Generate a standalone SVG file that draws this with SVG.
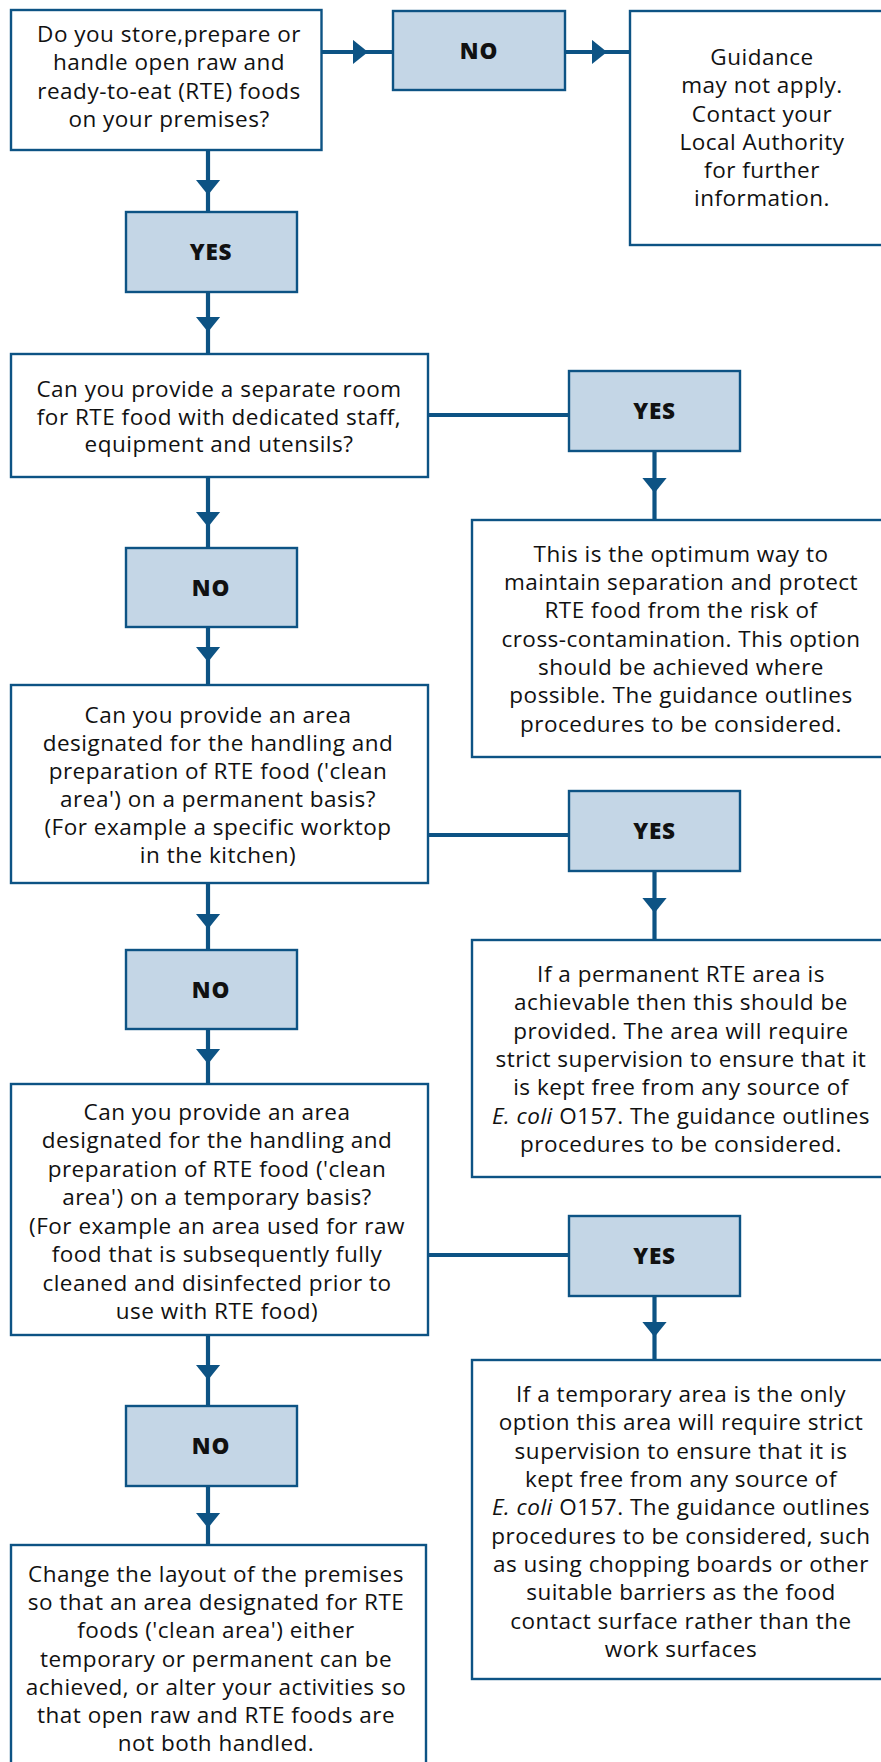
<svg xmlns="http://www.w3.org/2000/svg" width="881" height="1762" viewBox="0 0 881 1762">
<style>
.box{fill:#ffffff;stroke:#0d5384;stroke-width:2.4}
.lab{fill:#c4d6e6;stroke:#0d5384;stroke-width:2.4}
.t{font-family:"Open Sans","Noto Sans","DejaVu Sans",sans-serif;font-size:22.5px;letter-spacing:0.5px;fill:#111111;text-anchor:middle}
.b{font-family:"Open Sans","Noto Sans","DejaVu Sans",sans-serif;font-size:22.5px;font-weight:800;letter-spacing:0.8px;fill:#111111;text-anchor:middle}
.c{fill:none;stroke:#0d5384;stroke-width:4.2}
.a{marker-mid:url(#arr)}
.i{font-style:italic}
</style>
<defs>
<marker id="arr" markerUnits="userSpaceOnUse" viewBox="0 0 15.5 25" markerWidth="15.5" markerHeight="25" refX="15.5" refY="12.5" orient="auto">
<path d="M0,0 L15.5,12.5 L0,25 Z" fill="#0d5384"/>
</marker>
</defs>
<rect width="881" height="1762" fill="#ffffff"/>
<g id="connectors">
<path class="c a" d="M321,52 L368,52 L393,52"/>
<path class="c a" d="M565,52 L607,52 L630,52"/>
<path class="c a" d="M208,150 L208,195 L208,212"/>
<path class="c a" d="M208,292 L208,332 L208,354"/>
<path class="c a" d="M208,477 L208,527 L208,548"/>
<path class="c a" d="M208,627 L208,662 L208,685"/>
<path class="c a" d="M208,883 L208,929 L208,950"/>
<path class="c a" d="M208,1029 L208,1064 L208,1084"/>
<path class="c a" d="M208,1335 L208,1380 L208,1406"/>
<path class="c a" d="M208,1486 L208,1528 L208,1545"/>
<path class="c" d="M428,415 L569,415"/>
<path class="c a" d="M654.5,451 L654.5,493 L654.5,520"/>
<path class="c" d="M428,835 L569,835"/>
<path class="c a" d="M654.5,871 L654.5,913 L654.5,940"/>
<path class="c" d="M428,1255 L569,1255"/>
<path class="c a" d="M654.5,1296 L654.5,1337 L654.5,1360"/>
</g>
<g id="q1">
<rect class="box" x="11" y="10" width="310.5" height="140"/>
<text class="t" x="169" y="42">Do you store,prepare or</text>
<text class="t" x="169" y="70">handle open raw and</text>
<text class="t" x="169" y="98.5">ready-to-eat (RTE) foods</text>
<text class="t" x="169" y="127">on your premises?</text>
</g>
<g id="no1">
<rect class="lab" x="393" y="11" width="172" height="79"/>
<text class="b" x="479" y="58.5">NO</text>
</g>
<g id="guidance">
<rect class="box" x="630" y="11" width="265" height="234"/>
<text class="t" x="762" y="65">Guidance</text>
<text class="t" x="762" y="93">may not apply.</text>
<text class="t" x="762" y="122">Contact your</text>
<text class="t" x="762" y="150">Local Authority</text>
<text class="t" x="762" y="178">for further</text>
<text class="t" x="762" y="206">information.</text>
</g>
<g id="yes1">
<rect class="lab" x="126" y="212" width="171" height="80"/>
<text class="b" x="211" y="260">YES</text>
</g>
<g id="q2">
<rect class="box" x="11" y="354" width="417" height="123"/>
<text class="t" x="219" y="397">Can you provide a separate room</text>
<text class="t" x="219" y="424.5">for RTE food with dedicated staff,</text>
<text class="t" x="219" y="452">equipment and utensils?</text>
</g>
<g id="yes2">
<rect class="lab" x="569" y="371" width="171" height="80"/>
<text class="b" x="654.5" y="419">YES</text>
</g>
<g id="optimum">
<rect class="box" x="472" y="520" width="423" height="237"/>
<text class="t" x="681" y="562">This is the optimum way to</text>
<text class="t" x="681" y="590">maintain separation and protect</text>
<text class="t" x="681" y="618">RTE food from the risk of</text>
<text class="t" x="681" y="647">cross-contamination. This option</text>
<text class="t" x="681" y="675">should be achieved where</text>
<text class="t" x="681" y="703">possible. The guidance outlines</text>
<text class="t" x="681" y="732">procedures to be considered.</text>
</g>
<g id="no2">
<rect class="lab" x="126" y="548" width="171" height="79"/>
<text class="b" x="211" y="596">NO</text>
</g>
<g id="q3">
<rect class="box" x="11" y="685" width="417" height="198"/>
<text class="t" x="218" y="723">Can you provide an area</text>
<text class="t" x="218" y="750.5">designated for the handling and</text>
<text class="t" x="218" y="778.5">preparation of RTE food ('clean</text>
<text class="t" x="218" y="807">area') on a permanent basis?</text>
<text class="t" x="218" y="835">(For example a specific worktop</text>
<text class="t" x="218" y="863">in the kitchen)</text>
</g>
<g id="yes3">
<rect class="lab" x="569" y="791" width="171" height="80"/>
<text class="b" x="654.5" y="839">YES</text>
</g>
<g id="permanent">
<rect class="box" x="472" y="940" width="423" height="237"/>
<text class="t" x="681" y="982">If a permanent RTE area is</text>
<text class="t" x="681" y="1010">achievable then this should be</text>
<text class="t" x="681" y="1038.5">provided. The area will require</text>
<text class="t" x="681" y="1067">strict supervision to ensure that it</text>
<text class="t" x="681" y="1095">is kept free from any source of</text>
<text class="t" x="681" y="1123.5"><tspan class="i">E. coli</tspan> O157. The guidance outlines</text>
<text class="t" x="681" y="1152">procedures to be considered.</text>
</g>
<g id="no3">
<rect class="lab" x="126" y="950" width="171" height="79"/>
<text class="b" x="211" y="998">NO</text>
</g>
<g id="q4">
<rect class="box" x="11" y="1084" width="417" height="251"/>
<text class="t" x="217" y="1119.5">Can you provide an area</text>
<text class="t" x="217" y="1148">designated for the handling and</text>
<text class="t" x="217" y="1176.5">preparation of RTE food ('clean</text>
<text class="t" x="217" y="1205">area') on a temporary basis?</text>
<text class="t" x="217" y="1234">(For example an area used for raw</text>
<text class="t" x="217" y="1262">food that is subsequently fully</text>
<text class="t" x="217" y="1290.5">cleaned and disinfected prior to</text>
<text class="t" x="217" y="1319">use with RTE food)</text>
</g>
<g id="yes4">
<rect class="lab" x="569" y="1216" width="171" height="80"/>
<text class="b" x="654.5" y="1264">YES</text>
</g>
<g id="temporary">
<rect class="box" x="472" y="1360" width="423" height="319"/>
<text class="t" x="681" y="1402">If a temporary area is the only</text>
<text class="t" x="681" y="1430">option this area will require strict</text>
<text class="t" x="681" y="1458.5">supervision to ensure that it is</text>
<text class="t" x="681" y="1486.5">kept free from any source of</text>
<text class="t" x="681" y="1515"><tspan class="i">E. coli</tspan> O157. The guidance outlines</text>
<text class="t" x="681" y="1543.5">procedures to be considered, such</text>
<text class="t" x="681" y="1572">as using chopping boards or other</text>
<text class="t" x="681" y="1600">suitable barriers as the food</text>
<text class="t" x="681" y="1628.5">contact surface rather than the</text>
<text class="t" x="681" y="1656.5">work surfaces</text>
</g>
<g id="no4">
<rect class="lab" x="126" y="1406" width="171" height="80"/>
<text class="b" x="211" y="1454">NO</text>
</g>
<g id="change">
<rect class="box" x="11" y="1545" width="415" height="240"/>
<text class="t" x="216" y="1581.5">Change the layout of the premises</text>
<text class="t" x="216" y="1610">so that an area designated for RTE</text>
<text class="t" x="216" y="1638">foods ('clean area') either</text>
<text class="t" x="216" y="1666.5">temporary or permanent can be</text>
<text class="t" x="216" y="1694.5">achieved, or alter your activities so</text>
<text class="t" x="216" y="1723">that open raw and RTE foods are</text>
<text class="t" x="216" y="1751">not both handled.</text>
</g>
</svg>
